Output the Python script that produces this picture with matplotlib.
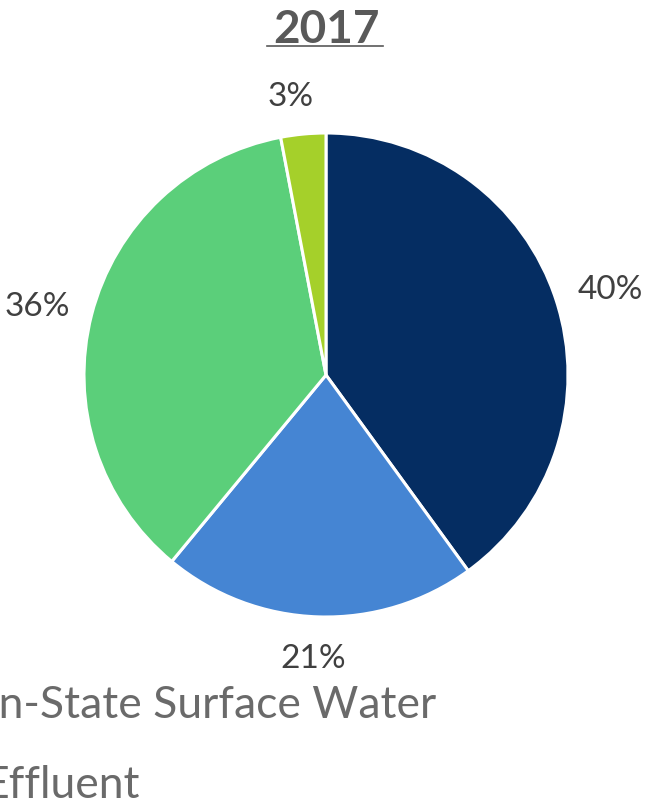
import matplotlib.pyplot as plt

# 2017 share by source (percent), clockwise from 12 o'clock
shares = [40, 21, 36, 3]
colors = ['#052d62', '#4585d3', '#5bcf7a', '#a5d02a']
title = '2017'
legend_labels = ['In-State Surface Water', 'Effluent']

W, H = 648, 807
fig = plt.figure(figsize=(W / 100, H / 100), dpi=100)
ax = fig.add_axes([0, 0, 1, 1])

# work in pixel units so the pie lands where it does in the picture
cx, cy, r = 326, H - 375, 242
wedges, texts, autotexts = ax.pie(
    shares, colors=colors, startangle=90, counterclock=False,
    center=(cx, cy), radius=r,
    autopct='%.0f%%', pctdistance=1.2,
    wedgeprops={'edgecolor': 'white', 'linewidth': 2.2},
    textprops={'fontsize': 24, 'color': '#404040', 'family': 'Lato'},
)
# nudge the labels to where the original put them (offsets from centre, px)
label_offsets = [(284, 85), (-13, -284), (-289, 68), (-35, 278)]
for txt, (dx, dy) in zip(autotexts, label_offsets):
    txt.set_position((cx + dx, cy + dy))

ax.set_xlim(0, W)
ax.set_ylim(0, H)
ax.set_aspect('equal')
ax.axis('off')

# title, bold and underlined
ax.text(326, H - 43, title, ha='center', va='baseline', fontsize=33,
        fontweight='bold', color='#595959', family='Lato')
ax.plot([267, 383], [H - 46, H - 46], color='#595959', lw=1.2)

# legend entries (cut off at the left edge of the picture)
ax.text(-14, H - 718, legend_labels[0], ha='left', va='baseline',
        fontsize=32, color='#6a6a6a', family='Lato')
ax.text(-16, H - 798, legend_labels[1], ha='left', va='baseline',
        fontsize=32, color='#6a6a6a', family='Lato')

fig.savefig('out.png', dpi=100)
